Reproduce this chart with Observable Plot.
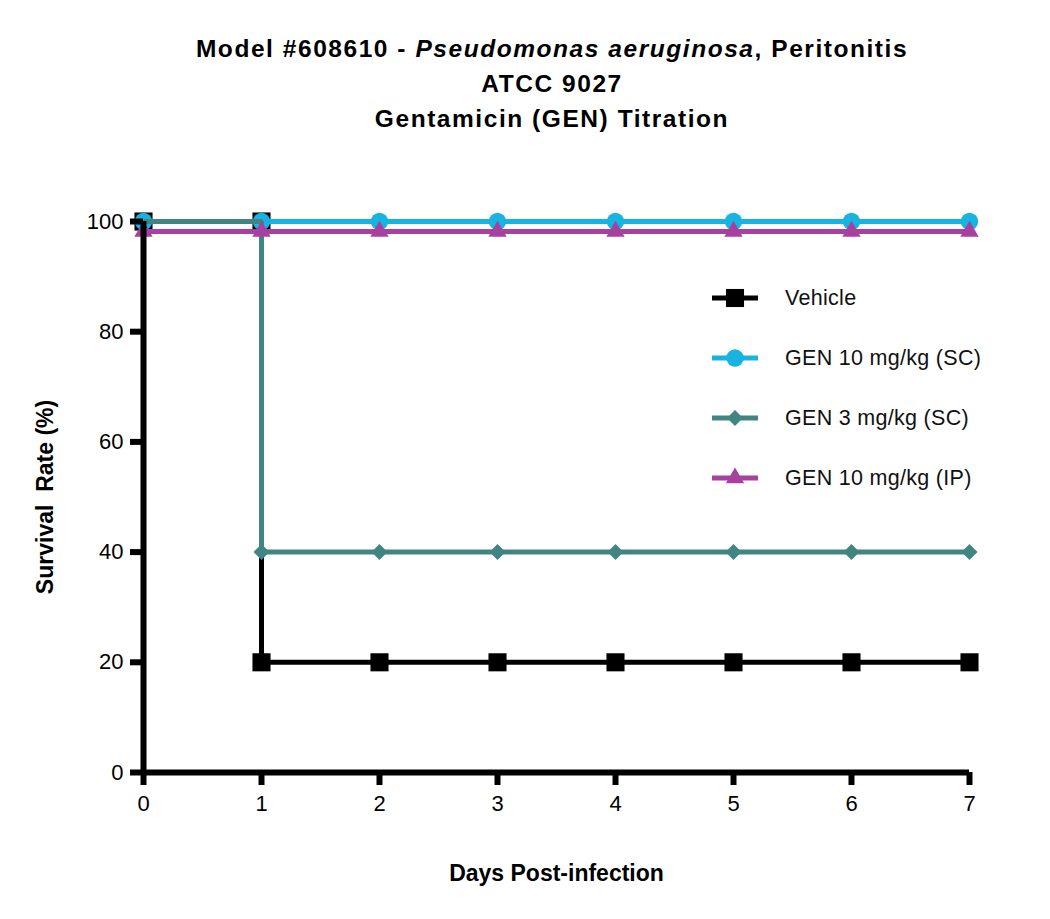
<!DOCTYPE html>
<html>
<head>
<meta charset="utf-8">
<script src="https://cdn.jsdelivr.net/npm/d3@7"></script>
<script src="https://cdn.jsdelivr.net/npm/@observablehq/plot@0.6"></script>
<style>
  html, body { margin: 0; padding: 0; background: #fff; }
  body { font-family: "Liberation Sans", Arial, sans-serif; }
  #wrap { position: relative; width: 1050px; height: 919px; overflow: hidden; }
  #title { position: absolute; left: 0; top: 31px; width: 1104px; text-align: center;
           font-weight: bold; font-size: 24.5px; line-height: 35px; letter-spacing: 1.55px; color: #000; }
  #chart { position: absolute; left: 0; top: 150px; }
  #legend { position: absolute; left: 710px; top: 268px; }
  .row { display: flex; align-items: center; height: 60px; font-size: 21.5px; color: #111; letter-spacing: 0.3px; }
  .row svg { margin-right: 25px; }
</style>
</head>
<body>
<div id="wrap">
  <div id="title">
    Model #608610 - <i>Pseudomonas aeruginosa</i>, Peritonitis<br>
    ATCC 9027<br>
    Gentamicin (GEN) Titration
  </div>
  <div id="chart"></div>
  <div id="legend"></div>
</div>
<script>
// ---- data ----
const days = [0, 1, 2, 3, 4, 5, 6, 7];
const seriesNames = ["Vehicle", "GEN 10 mg/kg (SC)", "GEN 3 mg/kg (SC)", "GEN 10 mg/kg (IP)"];
const vehicle  = [100, 20, 20, 20, 20, 20, 20, 20];
const gen10sc  = [100, 100, 100, 100, 100, 100, 100, 100];
const gen3sc   = [100, 40, 40, 40, 40, 40, 40, 40];
const gen10ip  = [98.2, 98.2, 98.2, 98.2, 98.2, 98.2, 98.2, 98.2];
const yTicks = [0, 20, 40, 60, 80, 100];
const xTicks = [0, 1, 2, 3, 4, 5, 6, 7];

const colors  = ["#000000", "#17b4e2", "#418583", "#a8409f"];
const symbols = ["square", "circle", "diamond2", "triangle"];
const radii   = [10.2, 8.7, 7.2, 6.8];
const values  = [vehicle, gen10sc, gen3sc, gen10ip];

function linePts(v) { return days.map((d, i) => ({day: d, val: v[i]})); }
function markerPts(v, withDropTop) {
  const pts = [];
  days.forEach((d, i) => {
    if (i > 0 && v[i] !== v[i - 1] && withDropTop) pts.push({day: d, val: v[i - 1]});
    pts.push({day: d, val: v[i]});
  });
  return pts;
}

const marks = [];
values.forEach((v, k) => {
  marks.push(Plot.line(linePts(v), {x: "day", y: "val", curve: "step-after",
    stroke: colors[k], strokeWidth: 5, strokeLinecap: "butt", strokeLinejoin: "miter"}));
  let pts = markerPts(v, k === 0);
  if (k === 2) pts = pts.filter(p => p.val !== 100);
  marks.push(Plot.dot(pts, {x: "day", y: "val", symbol: () => symbols[k], r: radii[k],
    fill: colors[k], stroke: "none"}));
});

const plot = Plot.plot({
  width: 1050,
  height: 769,
  marginTop: 71,
  marginBottom: 147,
  marginLeft: 143,
  marginRight: 81,
  style: {fontFamily: "'Liberation Sans', Arial, sans-serif", background: "#fff", color: "#000", overflow: "visible"},
  x: {domain: [0, 7]},
  y: {domain: [0, 100]},
  symbol: {type: "identity"},
  marks: [
    ...marks,
    Plot.ruleY([0], {stroke: "#000", strokeWidth: 6}),
    Plot.ruleX([0], {stroke: "#000", strokeWidth: 6}),
    Plot.axisX({ticks: xTicks, tickSize: 13, tickPadding: 10, strokeWidth: 6, fontSize: 22, label: null, tickFormat: d => String(d)}),
    Plot.axisY({ticks: yTicks, tickSize: 13, tickPadding: 7, strokeWidth: 6, fontSize: 22, label: null, tickFormat: d => String(d)}),
    Plot.text(["Survival\u00a0\u00a0Rate (%)"], {frameAnchor: "left", textAnchor: "middle", lineAnchor: "middle",
      dx: -98, dy: 0, rotate: -90, fontSize: 23, fontWeight: "bold", fill: "#000"}),
    Plot.text(["Days Post-infection"], {frameAnchor: "bottom", textAnchor: "middle", lineAnchor: "middle", dy: 101,
      fontSize: 23, fontWeight: "bold", fill: "#000", style: {letterSpacing: "0.5px"}})
  ]
});
document.getElementById("chart").appendChild(plot);

// ---- legend ----
const legend = d3.select("#legend");
seriesNames.forEach((name, k) => {
  const row = legend.append("div").attr("class", "row");
  const svg = row.append("svg").attr("width", 50).attr("height", 30);
  svg.append("line").attr("x1", 2).attr("x2", 48).attr("y1", 15).attr("y2", 15)
    .attr("stroke", colors[k]).attr("stroke-width", 5);
  const symType = [d3.symbolSquare, d3.symbolCircle, d3.symbolDiamond2, d3.symbolTriangle][k];
  svg.append("path").attr("transform", "translate(25,15)")
    .attr("d", d3.symbol(symType, Math.PI * radii[k] * radii[k])())
    .attr("fill", colors[k]);
  row.append("span").text(name);
});
</script>
</body>
</html>
